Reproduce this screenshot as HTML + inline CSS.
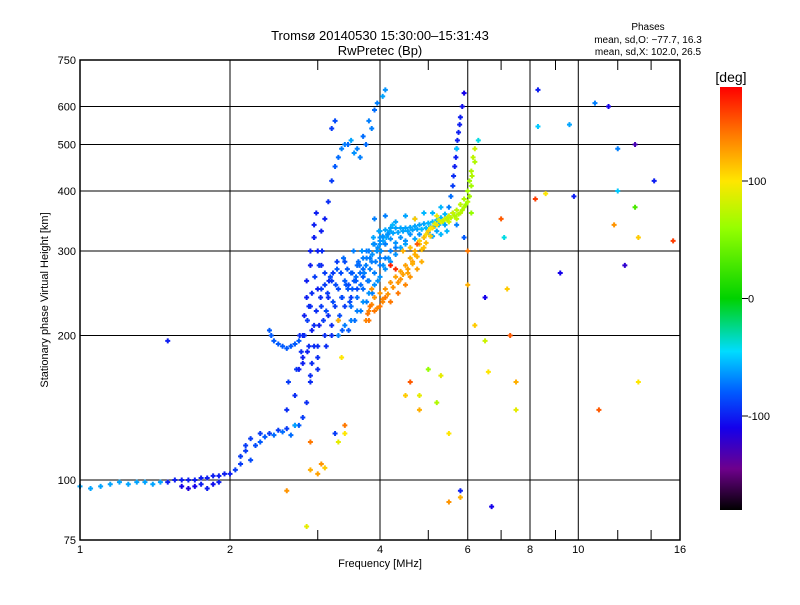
<!DOCTYPE html>
<html><head><meta charset="utf-8"><style>
body{margin:0;background:#fff;}
svg text{font-family:"Liberation Sans",sans-serif;fill:#000;}
</style></head><body>
<svg id="chart" width="800" height="600" viewBox="0 0 800 600" xmlns="http://www.w3.org/2000/svg">
<rect width="800" height="600" fill="#fff"/>
<text x="380" y="40" font-size="13" text-anchor="middle">Tromsø 20140530 15:30:00–15:31:43</text>
<text x="380" y="55" font-size="13" text-anchor="middle">RwPretec (Bp)</text>
<text x="648" y="30" font-size="10" text-anchor="middle">Phases</text>
<text x="648" y="43" font-size="10" text-anchor="middle">mean, sd,O: −77.7, 16.3</text>
<text x="648" y="55" font-size="10" text-anchor="middle">mean, sd,X: 102.0, 26.5</text>
<g id="grid"></g>
<g id="ticks"></g>
<g id="marks"></g>
<rect x="80" y="60" width="600" height="480" fill="none" stroke="#000" stroke-width="1.5"/>
<text x="380" y="567" font-size="11" text-anchor="middle">Frequency [MHz]</text>
<text x="48" y="300" font-size="11" text-anchor="middle" transform="rotate(-90 48 300)">Stationary phase Virtual Height [km]</text>
<defs><linearGradient id="cg" x1="0" y1="1" x2="0" y2="0"></linearGradient></defs>
<rect x="720" y="87" width="22" height="423" fill="url(#cg)"/>
<text x="731" y="82" font-size="14" text-anchor="middle">[deg]</text>
<g id="cbticks"></g>
</svg>
<script>
const xTicks=[1,2,4,6,8,10,16];
const xMinor=[3,5,7,9,12,14];
const yTicks=[75,100,200,300,400,500,600,750];
const cbTicks=[100,0,-100];
const freqO=[1.0,1.05,1.1,1.15,1.2,1.25,1.3,1.35,1.4,1.45,1.5,1.55,1.6,1.65,1.7,1.75,1.8,1.85,1.9,1.95,2.0,2.05,2.1,2.15,2.2,2.3,2.4,2.5,2.6,2.7,2.8,2.85,2.9,2.92,2.95,
2.4,2.42,2.45,2.5,2.55,2.6,2.65,2.7,2.75,2.8,2.8,2.82,2.85,2.85,2.9,2.9,2.95,2.95,2.98,2.9,2.95,3.0,3.0,3.05,3.05,3.1,3.1,3.15,3.15,3.2,3.2,3.25,3.3,3.3,3.35,3.4,3.4,3.45,3.5,3.5,3.55,3.6,3.6,3.65,3.7,3.7,3.75,3.8,3.85,3.9,3.95,4.0,4.0,
3.05,3.1,3.15,3.2,3.25,3.3,3.35,3.4,3.5,3.6,3.7,3.8,3.9,3.95,4.05,4.1,3.2,3.25,3.45,3.55,3.65,3.75,3.85,3.0,3.05,2.95,3.0,
5.5,5.55,5.6,5.62,5.65,5.68,5.7,5.72,5.75,5.78,5.8,5.85,5.9,5.6,5.7];
const heightO=[97,96,97,98,99,98,99,99,98,99,99,100,100,100,100,101,101,102,102,103,103,105,112,118,122,125,125,127,128,130,135,145,160,175,190,
205,200,195,192,190,188,190,192,195,180,200,220,240,260,280,300,320,340,360,230,210,190,170,230,250,270,200,220,240,260,200,230,215,250,240,260,230,250,270,240,260,280,250,270,290,265,280,300,285,310,300,320,290,
330,350,380,420,450,470,490,500,510,490,520,560,590,610,630,650,540,560,500,480,470,500,540,250,280,320,300,
370,390,410,430,450,470,490,510,530,550,570,600,640,360,340];
const phaseO=[-60,-60,-60,-60,-60,-60,-60,-60,-60,-60,-100,-100,-100,-100,-100,-100,-100,-100,-100,-100,-100,-90,-90,-90,-90,-90,-90,-90,-90,-90,-90,-95,-95,-95,-95,
-80,-80,-80,-80,-80,-80,-80,-80,-80,-100,-100,-100,-100,-100,-100,-100,-100,-100,-100,-95,-95,-95,-95,-90,-90,-90,-95,-95,-95,-90,-95,-90,-85,-85,-85,-80,-90,-80,-80,-90,-80,-75,-85,-75,-70,-80,-70,-70,-70,-70,-70,-65,-70,
-100,-100,-95,-90,-80,-75,-70,-70,-60,-70,-75,-70,-75,-70,-60,-65,-90,-85,-75,-65,-70,-75,-70,-100,-100,-100,-100,
-70,-75,-90,-95,-100,-100,-100,-100,-100,-100,-100,-105,-110,-80,-70];
const freqC=[2.78,2.82,2.86,2.88,2.92,2.96,3.02,3.06,3.08,3.12,3.14,3.18,3.22,3.26,3.28,3.32,3.36,3.38,3.42,3.44,3.48,3.52,3.54,3.58,3.62,3.66,3.68,3.72,3.76,3.78,3.82,3.86,3.88,3.92,3.96,3.98,4.02,4.06,4.1,4.14,
2.8,2.86,2.92,2.98,3.04,3.1,3.16,3.22,3.28,3.34,3.4,3.46,3.52,3.58,3.64,3.7,3.76,3.82,3.88,3.94,4.0,4.06,4.12,4.18,4.24,
2.6,2.7,2.9,3.0,2.62,2.72,2.76,2.88,3.02,3.12,3.2,3.36,3.46,3.56,3.66,3.76,3.86,3.96,4.06,4.16,
2.1,2.15,2.2,2.25,2.3,2.35,2.45,2.55,2.65,2.75,1.6,1.65,1.7,1.75,1.8,1.85,1.9];
const heightC=[185,200,215,230,245,265,280,300,215,225,245,265,235,255,275,220,240,290,255,275,235,250,300,265,285,255,300,270,290,260,275,295,320,285,305,330,300,315,310,325,
175,185,205,225,240,255,260,270,285,270,285,255,270,260,280,275,300,290,310,300,310,320,320,330,340,
140,150,165,180,160,170,200,190,210,190,210,205,205,215,225,235,245,260,280,290,
108,115,110,118,120,123,124,126,124,130,97,96,97,98,96,98,99];
const phaseC=[-95,-95,-90,-95,-95,-90,-90,-95,-90,-85,-90,-85,-85,-85,-80,-85,-85,-75,-80,-80,-85,-80,-70,-75,-75,-75,-65,-70,-70,-75,-70,-65,-60,-70,-65,-60,-65,-60,-60,-60,
-100,-100,-100,-95,-95,-90,-95,-90,-90,-85,-85,-85,-80,-80,-75,-75,-70,-70,-65,-65,-65,-60,-60,-60,-55,
-95,-95,-95,-95,-90,-90,-95,-95,-100,-95,-95,-80,-80,-75,-70,-70,-70,-65,-65,-65,
-90,-90,-85,-85,-80,-80,-75,-75,-75,-80,-110,-115,-110,-100,-100,-105,-100];
const freqBand=[3.3,3.4,3.5,3.6,3.7,3.8,3.9,4.0,4.1,4.2,4.3,4.4,4.5,3.5,3.6,3.7,3.8,3.9,4.0,4.1,4.2,4.3,
4.0,4.1,4.2,4.3,4.4,4.5,4.6,4.7,4.8,4.9,5.0,5.1,5.2,5.3,5.4,4.0,4.2,4.4,4.6,4.8,5.0,5.2,5.4,3.9,4.1,4.3,4.5,4.7,4.9,5.1,5.3,
4.05,4.15,4.25,4.35,4.45,4.55,4.65,4.75,4.85,4.95,5.05,5.15,5.25,5.35,5.45,4.1,4.3,4.5,4.7,4.9,5.1,5.3,5.45];
const heightBand=[200,210,215,225,235,245,255,265,275,285,295,305,310,230,240,250,260,270,280,290,300,305,
330,332,335,335,335,335,336,338,340,342,343,345,348,352,358,315,318,320,325,325,328,330,340,350,355,345,355,350,360,360,370,
322,325,327,328,330,330,332,333,333,335,337,338,340,345,350,310,312,315,318,320,322,325,330];
const phaseBand=[-70,-70,-70,-70,-65,-65,-65,-65,-65,-65,-65,-60,-60,-75,-75,-75,-70,-70,-70,-70,-70,-70,
-60,-60,-60,-60,-60,-60,-60,-60,-60,-60,-55,-55,-55,-55,-55,-65,-65,-65,-65,-65,-65,-60,-60,-70,-70,-60,-60,-60,-55,-55,-55,
-65,-65,-60,-60,-60,-60,-60,-60,-55,-55,-55,-55,-55,-50,-50,-70,-65,-65,-60,-60,-60,-55,-55];
const freqX=[3.75,3.8,3.85,3.9,4.0,4.1,4.2,4.3,4.4,4.5,4.6,4.7,4.8,4.9,5.0,4.2,4.35,4.5,4.6,4.75,4.85,3.8,3.85,5.1,5.2,4.2,4.3,4.0,4.1,4.4,4.55,4.65,4.7,4.9,3.9,4.05,
5.3,5.4,5.5,5.6,5.7,5.8,5.9,6.0,6.05,6.1,6.15,6.2,5.5,5.7,5.9,5.2,6.0,5.8,6.1,6.2,
3.78,3.82,3.95,4.05,4.15,4.25,4.35,4.45,4.55,4.65,4.75,4.85,4.95,5.05,4.45,4.6,4.8,4.95,5.05,5.15,5.25,5.35,5.45,5.55,5.65,5.75,5.85,5.95,6.05,6.12];
const heightX=[215,225,232,240,245,250,258,265,272,280,290,300,310,320,330,235,245,255,265,275,285,215,250,335,340,280,275,230,240,262,270,285,295,305,225,235,
345,350,355,360,365,375,385,400,420,440,470,490,345,350,370,355,380,360,410,460,
222,230,228,238,244,252,258,268,275,282,292,302,312,322,300,305,315,325,335,342,348,346,350,352,355,358,365,375,390,430];
const phaseX=[135,135,135,130,130,130,130,125,125,125,120,120,115,115,110,140,140,135,130,125,120,140,130,110,105,170,165,140,140,130,125,125,120,115,140,135,
95,90,85,80,75,75,70,65,65,70,75,80,80,75,70,95,70,75,65,70,
140,140,135,135,130,130,130,125,125,120,120,115,115,110,120,115,110,105,100,90,85,80,75,75,70,70,70,65,65,70];
const freqS=[1.5,2.9,3.0,3.05,3.1,3.3,3.4,3.4,4.5,4.6,4.8,5.0,5.2,5.3,5.5,5.8,5.8,5.9,6.0,6.0,6.2,6.5,6.5,6.6,6.7,7.0,7.1,7.2,7.3,7.5,7.5,8.2,8.3,8.3,8.6,9.2,9.6,9.8,10.8,11.0,11.5,11.8,12.0,12.0,12.4,13.0,13.2,13.0,13.2,14.2,15.5,3.3,3.35,2.85,2.9,3.25,2.6,4.7,4.75,4.8,5.5,5.7,6.1,6.3,2.7,2.75];
const heightS=[195,105,103,108,106,120,125,130,150,160,140,170,145,165,125,92,95,320,300,255,210,195,240,168,88,350,320,250,200,160,140,385,650,545,395,270,550,390,610,140,600,340,490,400,280,500,320,370,160,420,315,215,180,80,120,125,95,350,310,150,90,490,360,510,130,170];
const phaseS=[-100,120,125,130,110,90,100,140,110,150,120,60,70,90,100,120,-100,-80,140,120,110,80,-110,100,-110,150,-40,110,150,120,90,160,-100,-50,100,-110,-60,-100,-70,150,-110,130,-70,-50,-120,-130,110,30,100,-100,160,120,100,90,140,-90,130,110,150,90,130,-50,60,-40,-60,-100];

const X=f=>80+150*Math.log2(f);
const Y=h=>540-480*Math.log10(h/75);
const CBY=v=>298.5-v*(423/360);
const stops=[[-180,[0,0,0]],[-145,[110,0,140]],[-110,[20,0,235]],[-80,[0,90,255]],[-45,[0,220,255]],[0,[0,210,0]],[60,[150,255,0]],[100,[255,230,0]],[140,[255,120,0]],[180,[255,0,0]]];
function col(v){v=Math.max(-180,Math.min(180,v));for(let i=1;i<stops.length;i++){if(v<=stops[i][0]){const a=stops[i-1],b=stops[i],t=(v-a[0])/(b[0]-a[0]);return 'rgb('+a[1].map((c,k)=>Math.round(c+(b[1][k]-c)*t)).join(',')+')';}}return 'rgb(255,0,0)';}
const NS='http://www.w3.org/2000/svg';
function mk(tag,attrs,parent){const e=document.createElementNS(NS,tag);for(const k in attrs)e.setAttribute(k,attrs[k]);parent.appendChild(e);return e;}
const grid=document.getElementById('grid'),ticks=document.getElementById('ticks'),marks=document.getElementById('marks');
xTicks.forEach(f=>{const x=X(f);
 if(f>1&&f<16){const l=mk('line',{x1:x,x2:x,y1:60,y2:540,stroke:'#000','stroke-width':1},grid);}
 const t=mk('text',{x:x,y:553,'font-size':11,'text-anchor':'middle'},ticks);t.textContent=f;
 
});
xMinor.forEach(f=>{const x=X(f);mk('line',{x1:x,x2:x,y1:540,y2:530,stroke:'#000'},ticks);mk('line',{x1:x,x2:x,y1:60,y2:70,stroke:'#000'},ticks);});
yTicks.forEach(h=>{const y=Y(h);
 if(h>75&&h<750){const l=mk('line',{x1:80,x2:680,y1:y,y2:y,stroke:'#000','stroke-width':1},grid);}
 const t=mk('text',{x:76,y:y+4,'font-size':11,'text-anchor':'end'},ticks);t.textContent=h;
 
 mk('line',{x1:670,x2:680,y1:y,y2:y,stroke:'#000'},ticks);
});
function plot(fs,hs,ps,name){for(let i=0;i<fs.length;i++){const x=X(fs[i]),y=Y(hs[i]),c=col(ps[i]);
 const g=mk('path',{d:`M${x-2.5} ${y}h5M${x} ${y-2.5}v5`,stroke:c,'stroke-width':2,fill:'none'},marks);
 
 }}
plot(freqO,heightO,phaseO,'o-mode-point');
plot(freqC,heightC,phaseC,'o-mode-point');
plot(freqBand,heightBand,phaseBand,'o-mode-point');
plot(freqX,heightX,phaseX,'x-mode-point');
plot(freqS,heightS,phaseS,'scatter-point');
const grad=document.getElementById('cg');
stops.forEach(s=>mk('stop',{offset:((s[0]+180)/360*100)+'%','stop-color':col(s[0])},grad));
const cbt=document.getElementById('cbticks');
cbTicks.forEach(v=>{const y=CBY(v);mk('line',{x1:742,x2:748,y1:y,y2:y,stroke:'#000'},cbt);
 const t=mk('text',{x:748,y:y+4,'font-size':11},cbt);t.textContent=v;
 });
</script>
</body></html>
